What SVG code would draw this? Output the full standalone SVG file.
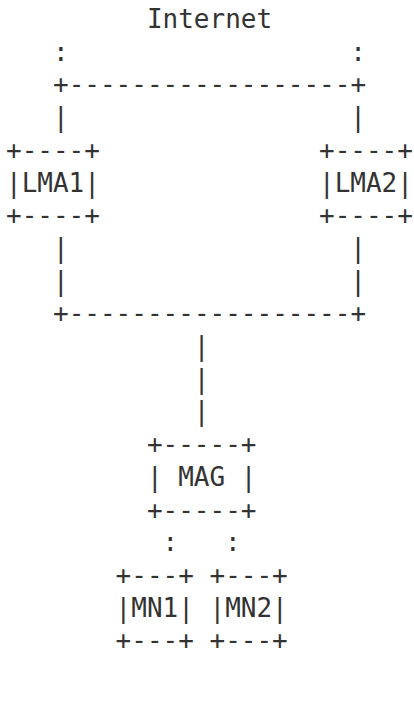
<svg xmlns="http://www.w3.org/2000/svg" width="414" height="704" viewBox="0 0 414 704">
  <style>
    text { font-family: "DejaVu Sans Mono", "Liberation Mono", monospace; font-size: 26px; fill: #333333; white-space: pre; }
  </style>
  <rect width="414" height="704" fill="#ffffff"/>
  <!-- columns: x = 6 + col * 15.65 ; rows: baseline = 28 + row * 32.7 -->
  <g id="internet">
    <text x="146.9" y="28">Internet</text>
  </g>
  <g id="connectors">
    <text x="53" y="60.7">:</text>
    <text x="350.3" y="60.7">:</text>
    <text x="53" y="93.4">+------------------+</text>
    <text x="53" y="126.1">|</text>
    <text x="350.3" y="126.1">|</text>
    <text x="53" y="256.9">|</text>
    <text x="350.3" y="256.9">|</text>
    <text x="53" y="289.6">|</text>
    <text x="350.3" y="289.6">|</text>
    <text x="53" y="322.3">+------------------+</text>
    <text x="193.8" y="355">|</text>
    <text x="193.8" y="387.7">|</text>
    <text x="193.8" y="420.4">|</text>
    <text x="162.5" y="551.2">:</text>
    <text x="225.1" y="551.2">:</text>
  </g>
  <g id="lma1">
    <text x="6" y="158.8">+----+</text>
    <text x="6" y="191.5">|LMA1|</text>
    <text x="6" y="224.2">+----+</text>
  </g>
  <g id="lma2">
    <text x="319" y="158.8">+----+</text>
    <text x="319" y="191.5">|LMA2|</text>
    <text x="319" y="224.2">+----+</text>
  </g>
  <g id="mag">
    <text x="146.9" y="453.1">+-----+</text>
    <text x="146.9" y="485.8">| MAG |</text>
    <text x="146.9" y="518.5">+-----+</text>
  </g>
  <g id="mn1">
    <text x="115.6" y="583.9">+---+</text>
    <text x="115.6" y="616.6">|MN1|</text>
    <text x="115.6" y="649.3">+---+</text>
  </g>
  <g id="mn2">
    <text x="209.5" y="583.9">+---+</text>
    <text x="209.5" y="616.6">|MN2|</text>
    <text x="209.5" y="649.3">+---+</text>
  </g>
</svg>
